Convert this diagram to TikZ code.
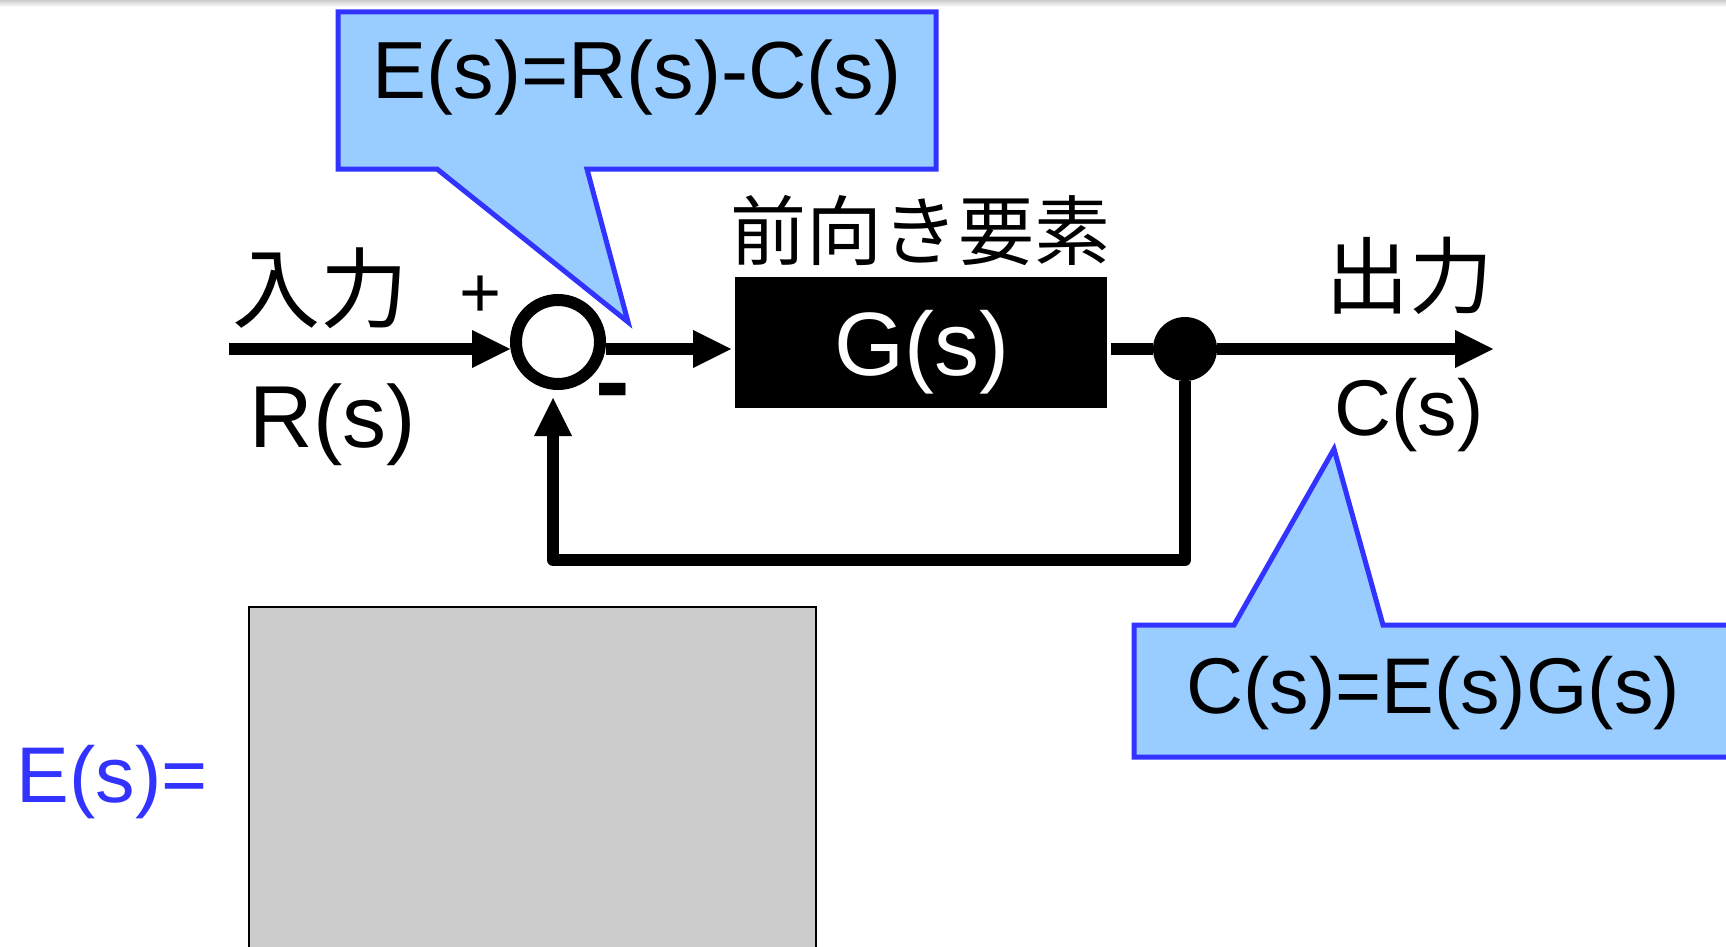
\documentclass[tikz,border=0pt]{standalone}
\usepackage{fontspec}
\setmainfont{Liberation Sans}
\newfontfamily\jpfont{Noto Sans CJK JP}
\usepackage{xcolor}
\usetikzlibrary{arrows.meta}
\definecolor{callblue}{HTML}{3333FF}
\definecolor{callfill}{HTML}{99CCFF}
\definecolor{boxgray}{HTML}{CCCCCC}
\newcommand{\fsz}[1]{\fontsize{#1}{#1}\selectfont}

\begin{document}
\begin{tikzpicture}[x=1pt, y=-1pt, >={Triangle[length=38pt,width=38pt,line width=0pt]},
  sig/.style={line width=12pt, line join=round},
  callout/.style={draw=callblue, fill=callfill, line width=5pt, line join=miter}]
  \useasboundingbox (0,0) rectangle (1726,947);
  \fill[white] (0,0) rectangle (1726,947);
  \shade[top color=gray!40, bottom color=white] (0,0) rectangle (1726,7);

  % Callouts
  \draw[callout] (338,12) -- (936,12) -- (936,169) -- (587,169) -- (628,322) -- (437,169) -- (338,169) -- cycle;
  \node[anchor=base, font=\fsz{81}] (eqE) at (637,99) {E(s)=R(s)-C(s)};
  \draw[callout] (1134,625) -- (1234,625) -- (1334,449) -- (1383,625) -- (1760,625) -- (1760,757) -- (1134,757) -- cycle;
  \node[anchor=base, font=\fsz{79}] (eqC) at (1433,713) {C(s)=E(s)G(s)};

  % Blocks
  \node[draw, circle, line width=12pt, minimum size=84pt, inner sep=0pt] (sum) at (558,342) {};
  \node[fill=black, minimum width=372pt, minimum height=131pt, outer sep=4pt] (G) at (921,342) {};
  \node[anchor=base, text=white, font=\fsz{90}] (Gtxt) at (922,375) {G(s)};
  \node[fill=black, circle, minimum size=64pt, inner sep=0pt] (br) at (1185,349) {};

  \coordinate (in) at (229,349);
  \coordinate (out) at (1493,349);
  \coordinate (fb) at (553,560);

  % Signals
  \draw[->, sig] (in) -- (sum.west |- in);
  \draw[->, sig] (sum.east |- in) -- (G.west |- in);
  \draw[sig] (G.east |- in) -- (br);
  \draw[->, sig] (br) -- (out);
  \draw[->, sig, shorten >=8pt] (br) |- (fb) -- ([xshift=-5pt]sum.south);

  % Labels
  \node[anchor=base, font=\jpfont\fsz{88}] (inlbl) at (320,321) {入力};
  \node[anchor=base, font=\fsz{88}] (Rlbl) at (333,447) {R(s)};
  \node[anchor=base, font=\fsz{72}] (plus) at (481,317) {+};
  \node[anchor=base, font=\bfseries\fsz{104}] (minus) at (613,416) {-};
  \node[anchor=base, font=\jpfont\fsz{76}] (fwd) at (920,259) {前向き要素};
  \node[anchor=base, font=\jpfont\fsz{84}] (outlbl) at (1409,307) {出力};
  \node[anchor=base, font=\fsz{79}] (Clbl) at (1409,435) {C(s)};

  % Result area
  \node[anchor=base west, text=callblue, font=\fsz{79}] (Elbl) at (13,802) {E(s)=};
  \draw[fill=boxgray, line width=2pt] (249,607) rectangle (816,990);
\end{tikzpicture}
\end{document}
